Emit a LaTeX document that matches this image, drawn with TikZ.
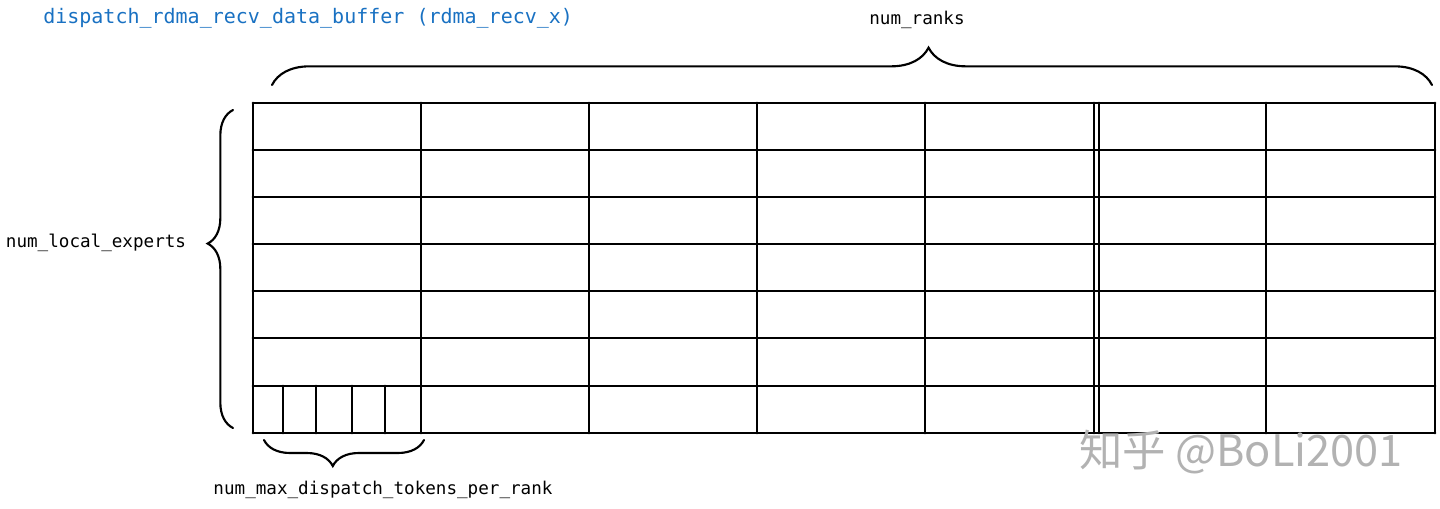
\documentclass[tikz,border=0pt]{standalone}
\usepackage{fontspec}
\setmonofont{DejaVu Sans Mono}
\newfontfamily\cjkfont{Noto Sans CJK SC}
\usepackage{tikz}
\usetikzlibrary{decorations.pathreplacing,positioning}
\definecolor{titleblue}{RGB}{25,113,194}
\definecolor{markgray}{RGB}{178,178,178}
\tikzstyle{cellline} = [line width=2.1pt, line cap=round]
\tikzstyle{dimbrace} = [draw, line width=1.6pt, line cap=round, decorate]
\tikzstyle{dimlabel} = [font=\ttfamily\fontsize{13.2}{15}\selectfont, inner sep=0pt]

\begin{document}
\begin{tikzpicture}[x=0.75pt, y=-0.75pt]
    \useasboundingbox (0,0) rectangle (1440,508);

    % buffer grid: num_local_experts rows x num_ranks columns
    \foreach \y in {103,150,197,244,291,338,386,433}
        \draw [cellline] (253,\y) -- (1435,\y);
    \foreach \x in {253,421,589,757,925,1094,1099,1266,1435}
        \draw [cellline] (\x,103) -- (\x,433);
    % tokens inside one cell
    \foreach \x in {283,316,352,385}
        \draw [cellline] (\x,386) -- (\x,433);

    % brace end points
    \coordinate (ranksL) at (272,85);
    \coordinate (ranksR) at (1432,85);
    \coordinate (expT) at (233,110);
    \coordinate (expB) at (233,428);
    \coordinate (tokL) at (264,440);
    \coordinate (tokR) at (424,440);

    \path [dimbrace, decoration={brace, amplitude=28pt, aspect=0.566}] (ranksL) -- (ranksR);
    \path [dimbrace, decoration={brace, amplitude=19pt, aspect=0.58}] (expB) -- (expT);
    \path [dimbrace, decoration={brace, amplitude=19.5pt, aspect=0.57}] (tokR) -- (tokL);

    \node [dimlabel, font=\ttfamily\fontsize{15}{17}\selectfont, text=titleblue, anchor=west] (title) at (43,18) {dispatch\_rdma\_recv\_data\_buffer (rdma\_recv\_x)};
    \node [dimlabel] (ranks) at (917,20) {num\_ranks};
    \node [dimlabel] (experts) at (96,243) {num\_local\_experts};
    \node [dimlabel] (tokens) at (383,490) {num\_max\_dispatch\_tokens\_per\_rank};
    \node [text=markgray, font=\cjkfont\fontsize{32.5}{34}\selectfont, inner sep=0pt] (mark) at (1241,452) {知乎 @BoLi2001};
\end{tikzpicture}
\end{document}
